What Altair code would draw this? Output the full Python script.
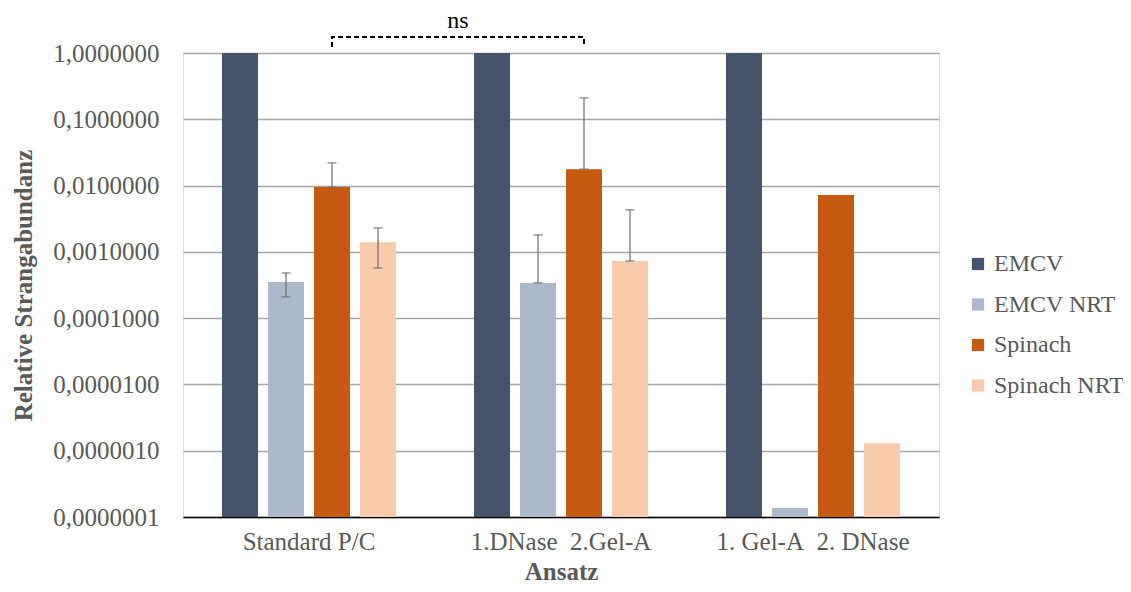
import altair as alt
import pandas as pd

groups = ["Standard P/C", "1.DNase\u00a0 2.Gel-A", "1. Gel-A\u00a0 2. DNase"]
series = ["EMCV", "EMCV NRT", "Spinach", "Spinach NRT"]
colors = ["#44546A", "#ADB9CA", "#C55A11", "#F8CBAD"]

emcv = [1.0, 1.0, 1.0]
emcv_nrt = [3.5e-4, 3.4e-4, 1.37e-7]
spinach = [9.5e-3, 1.77e-2, 7.2e-3]
spinach_nrt = [1.4e-3, 7.3e-4, 1.3e-6]

# error bar bounds (None = no error bar)
emcv_nrt_lo = [2.1e-4, 3.4e-4, None]
emcv_nrt_hi = [4.8e-4, 1.8e-3, None]
spinach_lo = [9.5e-3, 1.77e-2, None]
spinach_hi = [2.2e-2, 2.1e-1, None]
spinach_nrt_lo = [5.7e-4, 7.3e-4, None]
spinach_nrt_hi = [2.3e-3, 4.3e-3, None]

y_ticks = [1e-7, 1e-6, 1e-5, 1e-4, 1e-3, 1e-2, 1e-1, 1.0]

# bracket levels for the "ns" annotation
bracket_low = 1.23
bracket_high = 1.74
ns_level = 2.40

vals = {"EMCV": emcv, "EMCV NRT": emcv_nrt, "Spinach": spinach, "Spinach NRT": spinach_nrt}
rows = []
for s in series:
    for g, v in zip(groups, vals[s]):
        rows.append({"Ansatz": g, "Serie": s, "Wert": v})
bars_df = pd.DataFrame(rows)

err_rows = []
for s, lo, hi in [("EMCV NRT", emcv_nrt_lo, emcv_nrt_hi),
                  ("Spinach", spinach_lo, spinach_hi),
                  ("Spinach NRT", spinach_nrt_lo, spinach_nrt_hi)]:
    for g, l, h in zip(groups, lo, hi):
        if l is not None:
            err_rows.append({"Ansatz": g, "Serie": s, "lo": l, "hi": h})
err_df = pd.DataFrame(err_rows)
caps_df = pd.concat([
    err_df[["Ansatz", "Serie", "lo"]].rename(columns={"lo": "y"}),
    err_df[["Ansatz", "Serie", "hi"]].rename(columns={"hi": "y"}),
])

bracket_df = pd.DataFrame([
    {"Ansatz": groups[0], "Serie": "Spinach", "y": bracket_low, "o": 0},
    {"Ansatz": groups[0], "Serie": "Spinach", "y": bracket_high, "o": 1},
    {"Ansatz": groups[1], "Serie": "Spinach", "y": bracket_high, "o": 2},
    {"Ansatz": groups[1], "Serie": "Spinach", "y": bracket_low, "o": 3},
])
ns_df = pd.DataFrame([{"Ansatz": groups[0], "Serie": "Spinach", "y": ns_level, "t": "ns"}])

FONT = "Liberation Serif"
GRAY = "#595959"

x_enc = alt.X("Ansatz:N", sort=groups,
              scale=alt.Scale(domain=groups, paddingInner=0, paddingOuter=0),
              axis=alt.Axis(title="Ansatz", labelAngle=0, ticks=False, domain=True,
                            domainColor="#000000", domainWidth=1.5, labelLimit=400,
                            labelFont=FONT, labelFontSize=25, labelColor=GRAY,
                            labelPadding=12, titleFont=FONT, titleFontSize=25,
                            titleFontWeight="bold", titleColor=GRAY, titlePadding=5))
xoff_enc = alt.XOffset("Serie:N", sort=series,
                       scale=alt.Scale(domain=series, paddingInner=0.217, paddingOuter=0.848))
y_scale = alt.Scale(type="log", domain=[1e-7, 1.0], nice=False)

bars = alt.Chart(bars_df).mark_bar().encode(
    x=x_enc,
    xOffset=xoff_enc,
    y=alt.Y("Wert:Q", scale=y_scale,
            axis=alt.Axis(title="Relative Strangabundanz", values=y_ticks,
                          labelExpr="replace(format(datum.value, '.7f'), '.', ',')",
                          ticks=False, domain=False, grid=True, gridColor="#A6A6A6",
                          gridWidth=1.5, labelFont=FONT, labelFontSize=25,
                          labelColor=GRAY, labelPadding=24, titleFont=FONT,
                          titleFontSize=25, titleFontWeight="bold", titleColor=GRAY,
                          titlePadding=16)),
    y2=alt.datum(1e-7),
    color=alt.Color("Serie:N", sort=series,
                    scale=alt.Scale(domain=series, range=colors),
                    legend=alt.Legend(title=None, orient="none", legendX=783, legendY=199,
                                      symbolType="square", symbolSize=150,
                                      symbolStrokeWidth=0, labelFont=FONT,
                                      labelFontSize=24, labelColor=GRAY, labelLimit=400,
                                      labelOffset=4, rowPadding=16.5)),
)

err = alt.Chart(err_df).mark_rule(color="#6E6E6E", strokeWidth=1.2).encode(
    x=alt.X("Ansatz:N", sort=groups),
    xOffset=xoff_enc,
    y=alt.Y("lo:Q", scale=y_scale),
    y2="hi:Q",
)
caps = alt.Chart(caps_df).mark_tick(color="#6E6E6E", thickness=1.5, size=9).encode(
    x=alt.X("Ansatz:N", sort=groups),
    xOffset=xoff_enc,
    y=alt.Y("y:Q", scale=y_scale),
)

bracket = alt.Chart(bracket_df).mark_line(color="#000000", strokeWidth=2,
                                          strokeDash=[5, 3]).encode(
    x=alt.X("Ansatz:N", sort=groups),
    xOffset=xoff_enc,
    y=alt.Y("y:Q", scale=y_scale),
    order="o:Q",
)
ns = alt.Chart(ns_df).mark_text(font=FONT, fontSize=24, color="#000000",
                                baseline="alphabetic", dx=126).encode(
    x=alt.X("Ansatz:N", sort=groups),
    xOffset=xoff_enc,
    y=alt.Y("y:Q", scale=y_scale),
    text="t:N",
)

chart = alt.layer(bars, err, caps, bracket, ns).properties(
    width=756, height=464,
    autosize=alt.AutoSizeParams(type="none"),
    padding={"left": 175, "top": 45, "right": 184, "bottom": 67},
).configure_view(stroke=None).configure(background="#FFFFFF")

chart.save("out.html", embed_options={"renderer": "svg", "actions": False})
